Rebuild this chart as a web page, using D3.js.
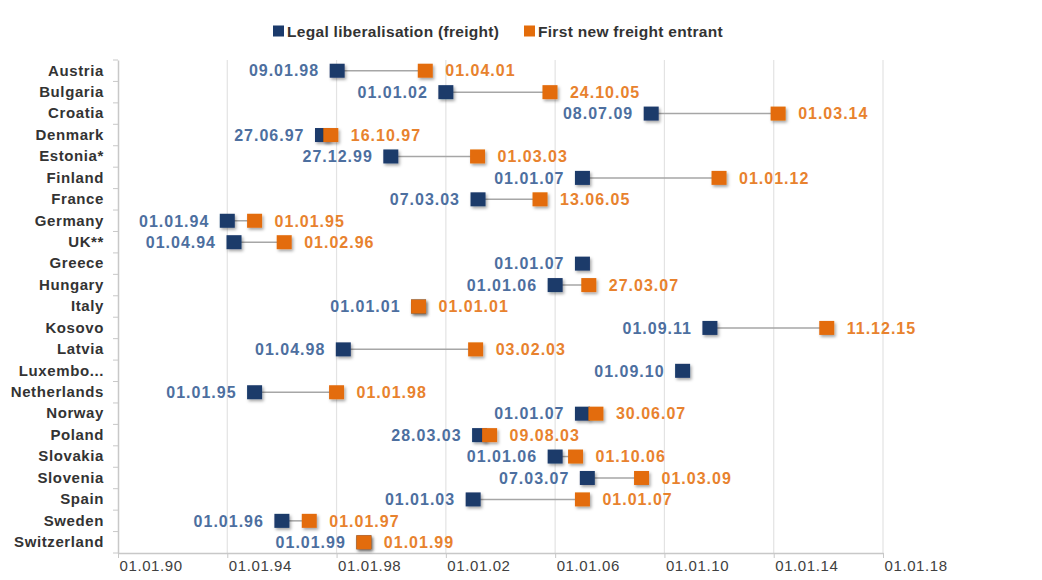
<!DOCTYPE html>
<html><head><meta charset="utf-8">
<script src="https://cdn.jsdelivr.net/npm/d3@7"></script>
<style>
body{margin:0;background:#fff;}
text{font-family:"Liberation Sans",Arial,sans-serif;}
</style></head>
<body><svg id="c" width="1042" height="580"></svg>
<script>
const countries = ["Austria","Bulgaria","Croatia","Denmark","Estonia*","Finland","France","Germany","UK**","Greece","Hungary","Italy","Kosovo","Latvia","Luxembo...","Netherlands","Norway","Poland","Slovakia","Slovenia","Spain","Sweden","Switzerland"];
const legalDates = ["09.01.98","01.01.02","08.07.09","27.06.97","27.12.99","01.01.07","07.03.03","01.01.94","01.04.94","01.01.07","01.01.06","01.01.01","01.09.11","01.04.98","01.09.10","01.01.95","01.01.07","28.03.03","01.01.06","07.03.07","01.01.03","01.01.96","01.01.99"];
const entrantDates = ["01.04.01","24.10.05","01.03.14","16.10.97","01.03.03","01.01.12","13.06.05","01.01.95","01.02.96",null,"27.03.07","01.01.01","11.12.15","03.02.03",null,"01.01.98","30.06.07","09.08.03","01.10.06","01.03.09","01.01.07","01.01.97","01.01.99"];
const tickDates = ["01.01.90","01.01.94","01.01.98","01.01.02","01.01.06","01.01.10","01.01.14","01.01.18"];
const seriesNames = ["Legal liberalisation (freight)","First new freight entrant"];

function parse(s){ if(!s) return null; const [d,m,y]=s.split(".").map(Number); return new Date((y>=50?1900:2000)+y, m-1, d); }

const svg = d3.select("#c");
const blue="#1b3a6b", orange="#e36c0a", blueText="#4d6f9f", orangeText="#e8822e";
const defs = svg.append("defs");
const f = defs.append("filter").attr("id","sh").attr("x","-50%").attr("y","-50%").attr("width","200%").attr("height","200%");
f.append("feDropShadow").attr("dx",1.5).attr("dy",2).attr("stdDeviation",1.5).attr("flood-color","#000").attr("flood-opacity",0.35);

const pL=118, pR=883, pT=60, pB=553;
const x = d3.scaleTime().domain([parse(tickDates[0]), parse(tickDates[tickDates.length-1])]).range([pL,pR]);
const y = d3.scaleBand().domain(countries).range([pT,pB]);

// grid
svg.append("g").selectAll("line").data(tickDates.slice(1)).join("line")
  .attr("x1",d=>x(parse(d))).attr("x2",d=>x(parse(d))).attr("y1",pT).attr("y2",pB)
  .attr("stroke","#e3e3e3").attr("stroke-width",1.2);

// x axis
const xa = svg.append("g").attr("transform",`translate(0,${pB})`)
  .call(d3.axisBottom(x).tickValues(tickDates.map(parse)).tickFormat(d3.timeFormat("%d.%m.%y")).tickSize(5).tickSizeOuter(0));
xa.select(".domain").attr("stroke","#c8c8c8").attr("stroke-width",1.5);
xa.selectAll(".tick line").attr("stroke","#c8c8c8");
xa.selectAll(".tick text").attr("fill","#404040").attr("font-size",15).attr("letter-spacing","0.6px")
  .attr("text-anchor","start").attr("y",5).attr("dy","0.85em").attr("x",1);

// y axis
const ya = svg.append("g").attr("transform",`translate(${pL},0)`)
  .call(d3.axisLeft(y).tickSize(0).tickPadding(14));
ya.select(".domain").attr("stroke","#c8c8c8").attr("stroke-width",1.5);
ya.selectAll(".tick text").attr("fill","#333").attr("font-size",15).attr("font-weight","bold").attr("letter-spacing","0.6px");
svg.append("g").selectAll("line").data(d3.range(countries.length+1)).join("line")
  .attr("x1",pL-5).attr("x2",pL).attr("y1",i=>pT+i*y.step()).attr("y2",i=>pT+i*y.step())
  .attr("stroke","#c8c8c8");

const rows = countries.map((c,i)=>({c, a:parse(legalDates[i]), b:parse(entrantDates[i]), la:legalDates[i], lb:entrantDates[i]}));
const cy = d=>y(d.c)+y.bandwidth()/2;

// connectors
svg.append("g").selectAll("line").data(rows.filter(d=>d.b)).join("line")
  .attr("x1",d=>x(d.a)).attr("x2",d=>x(d.b)).attr("y1",cy).attr("y2",cy)
  .attr("stroke","#a6a6a6").attr("stroke-width",1.5);

const ms=15;
// blue markers
svg.append("g").selectAll("rect").data(rows).join("rect")
  .attr("x",d=>x(d.a)-ms/2).attr("y",d=>cy(d)-ms/2+0.5).attr("width",ms).attr("height",ms-1)
  .attr("fill",blue).attr("filter","url(#sh)");
// orange markers
svg.append("g").selectAll("rect").data(rows.filter(d=>d.b)).join("rect")
  .attr("x",d=>x(d.b)-ms/2).attr("y",d=>cy(d)-ms/2+0.5).attr("width",ms).attr("height",ms-1)
  .attr("fill",orange).attr("filter","url(#sh)");

// labels
svg.append("g").selectAll("text").data(rows).join("text")
  .attr("x",d=>x(d.a)-18).attr("y",cy).attr("dy","0.36em").attr("text-anchor","end")
  .attr("fill",blueText).attr("font-size",16).attr("font-weight","bold").attr("letter-spacing","1px")
  .text(d=>d.la);
svg.append("g").selectAll("text").data(rows.filter(d=>d.b)).join("text")
  .attr("x",d=>x(d.b)+20).attr("y",cy).attr("dy","0.36em").attr("text-anchor","start")
  .attr("fill",orangeText).attr("font-size",16).attr("font-weight","bold").attr("letter-spacing","1px")
  .text(d=>d.lb);

// legend
const lg = svg.append("g").attr("transform","translate(273,31)");
const items = [{n:seriesNames[0],c:blue,x:0},{n:seriesNames[1],c:orange,x:251}];
items.forEach(it=>{
  lg.append("rect").attr("x",it.x).attr("y",-5.5).attr("width",11).attr("height",11).attr("fill",it.c);
  lg.append("text").attr("x",it.x+14).attr("y",0).attr("dy","0.36em").attr("font-size",15.5).attr("font-weight","bold")
    .attr("fill","#333").attr("letter-spacing","0.3px").text(it.n);
});
</script></body></html>
